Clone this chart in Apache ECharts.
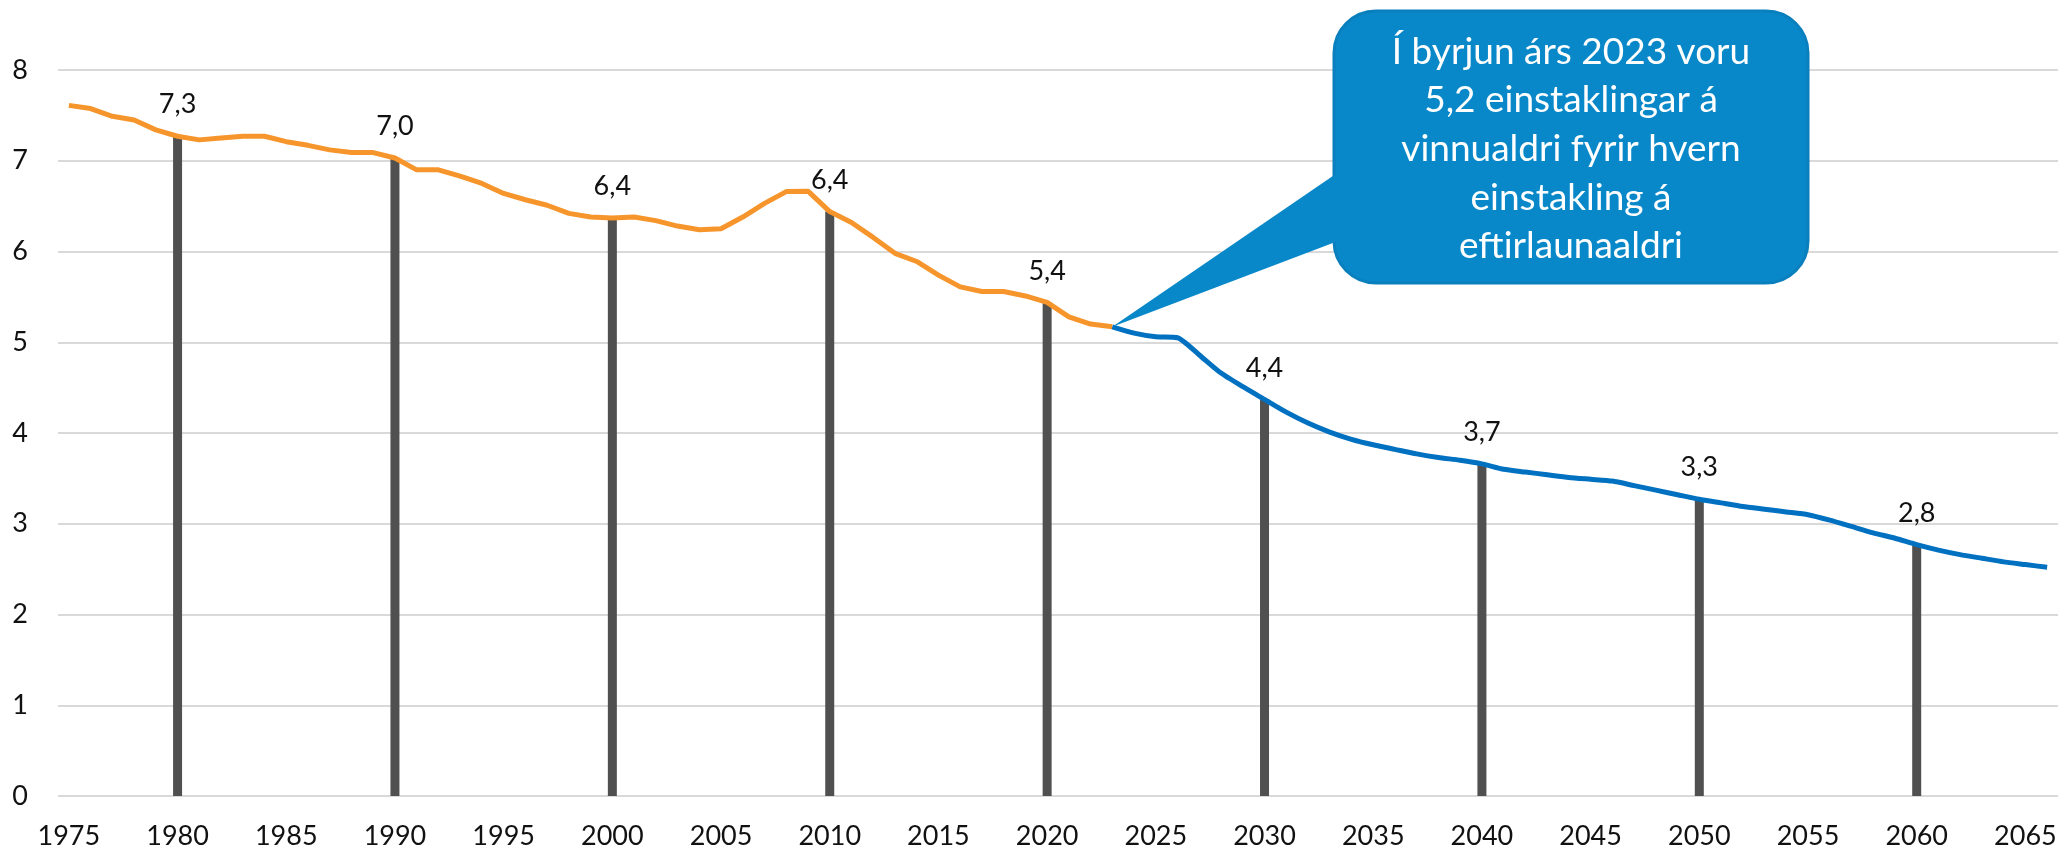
<!DOCTYPE html>
<html>
<head>
<meta charset="utf-8">
<script src="https://cdn.jsdelivr.net/npm/echarts@6/dist/echarts.min.js"></script>
<style>
  html, body { margin: 0; padding: 0; background: #fff; }
  #chart { width: 2061px; height: 852px; }
</style>
</head>
<body>
<div id="chart"></div>
<script>
// categories: one per year
const firstYear = 1975
const lastYear = 2066
const years = []
for (let y = firstYear; y <= lastYear; y++) years.push(String(y))

// 1975-2023, historical
const historical = [
  7.61, 7.575, 7.49, 7.45, 7.34, 7.27, 7.23, 7.25, 7.27, 7.27,
  7.21, 7.17, 7.12, 7.09, 7.09, 7.03, 6.90, 6.90, 6.83, 6.75,
  6.64, 6.57, 6.51, 6.42, 6.38, 6.37, 6.38, 6.34, 6.28, 6.24,
  6.25, 6.38, 6.53, 6.66, 6.665, 6.44, 6.32, 6.155, 5.98, 5.89,
  5.74, 5.61, 5.56, 5.56, 5.51, 5.44, 5.28, 5.20, 5.17
]
// 2023-2066, projection
const projection = [
  5.17, 5.10, 5.06, 5.05, 4.86, 4.66, 4.51, 4.37, 4.23, 4.11,
  4.01, 3.93, 3.87, 3.82, 3.77, 3.73, 3.70, 3.66, 3.60, 3.57,
  3.54, 3.51, 3.49, 3.47, 3.42, 3.37, 3.32, 3.27, 3.23, 3.19,
  3.16, 3.13, 3.10, 3.04, 2.97, 2.90, 2.84, 2.77, 2.71, 2.66,
  2.62, 2.58, 2.55, 2.52
]
const projectionStart = '2023'
const barYears = ['1980', '1990', '2000', '2010', '2020', '2030', '2040', '2050', '2060']
const yTicks = [0, 1, 2, 3, 4, 5, 6, 7, 8]
const calloutText = 'Í byrjun árs 2023 voru\n5,2 einstaklingar á\nvinnualdri fyrir hvern\neinstakling á\neftirlaunaaldri'

const startIdx = years.indexOf(projectionStart)
const orangeData = years.map((y, i) => (i < historical.length ? historical[i] : null))
const blueData = years.map((y, i) => (i >= startIdx ? projection[i - startIdx] : null))
const allData = years.map((y, i) => (orangeData[i] != null ? orangeData[i] : blueData[i]))
const barData = years.map((y, i) => (barYears.includes(y) ? allData[i] : null))

const font = 'Lato, "Noto Sans", sans-serif'
const chart = echarts.init(document.getElementById('chart'))

chart.setOption({
  animation: false,
  textStyle: { fontFamily: font },
  grid: { left: 58, right: 3, top: 70, bottom: 56, containLabel: false },
  xAxis: {
    type: 'category',
    data: years,
    boundaryGap: true,
    axisTick: { show: false },
    axisLine: { show: false },
    axisLabel: {
      interval: 4,
      margin: 27,
      color: '#111',
      fontSize: 27,
      fontFamily: font
    }
  },
  yAxis: {
    type: 'value',
    min: yTicks[0],
    max: yTicks[yTicks.length - 1],
    interval: 1,
    axisLine: { show: false },
    axisTick: { show: false },
    axisLabel: { margin: 30, color: '#111', fontSize: 27, fontFamily: font },
    splitLine: { lineStyle: { color: '#d9d9d9', width: 2 } }
  },
  series: [
    {
      type: 'bar',
      data: barData,
      barWidth: 9,
      itemStyle: { color: '#505050' },
      label: {
        show: true,
        position: 'top',
        distance: 18,
        color: '#111',
        fontSize: 27,
        fontFamily: font,
        formatter: p => p.value.toFixed(1).replace('.', ',')
      }
    },
    {
      type: 'line',
      data: orangeData,
      showSymbol: false,
      symbol: 'none',
      lineStyle: { color: '#f7952d', width: 5 },
      z: 3
    },
    {
      type: 'line',
      data: blueData,
      showSymbol: false,
      symbol: 'none',
      smooth: 0.2,
      lineStyle: { color: '#0070c0', width: 5 },
      z: 3
    }
  ]
})

// callout pointing at the 2023 value
const tip = chart.convertToPixel({ xAxisIndex: 0, yAxisIndex: 0 }, [projectionStart, projection[0]])
const box = { x: 1334, y: 11, w: 474, h: 272 }
chart.setOption({
  graphic: [
    {
      type: 'rect',
      shape: { x: box.x, y: box.y, width: box.w, height: box.h, r: 42 },
      style: { fill: '#0888c9', stroke: '#0a7fbd', lineWidth: 3 },
      z: 10
    },
    {
      type: 'polygon',
      shape: { points: [tip, [box.x + 12, 167], [box.x + 12, 238]] },
      style: { fill: '#0888c9' },
      z: 11
    },
    {
      type: 'text',
      x: box.x + box.w / 2,
      y: box.y + box.h / 2 + 2,
      style: {
        text: calloutText,
        fill: '#fff',
        align: 'center',
        verticalAlign: 'middle',
        fontSize: 37,
        fontFamily: font,
        lineHeight: 48.6
      },
      z: 12
    }
  ]
})
</script>
</body>
</html>
